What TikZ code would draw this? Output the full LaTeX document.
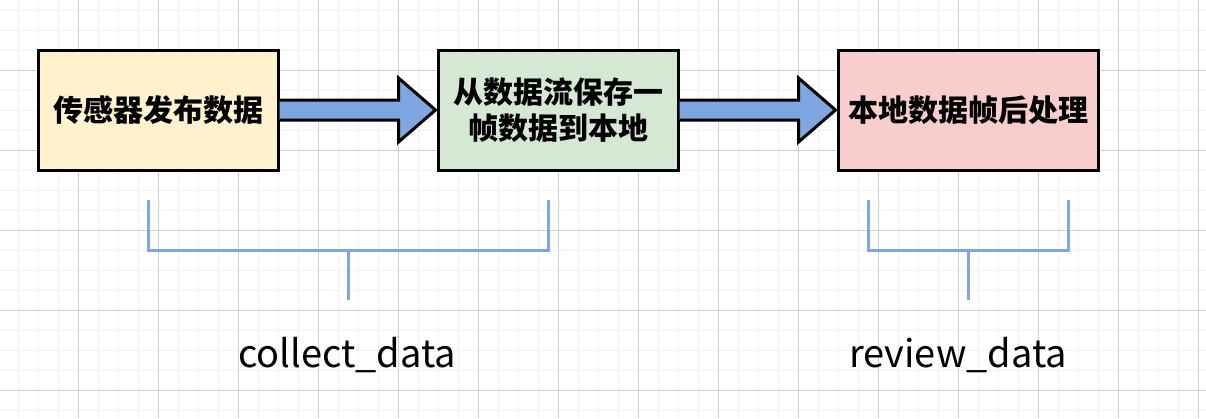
\documentclass[tikz,border=0pt]{standalone}
\usepackage{fontspec}
\newfontfamily\cjk{Noto Sans CJK SC}
\usetikzlibrary{calc}
\definecolor{gridminor}{HTML}{F2F2F2}
\definecolor{gridmajor}{HTML}{D0D0D0}
\definecolor{yellowfill}{HTML}{FFF2CC}
\definecolor{greenfill}{HTML}{D5E8D4}
\definecolor{redfill}{HTML}{F8CECC}
\definecolor{arrowblue}{HTML}{7EA6E0}
\begin{document}
\begin{tikzpicture}[x=1pt,y=-1pt,
  stepbox/.style={draw=black,line width=3pt,minimum height=120pt,inner sep=0pt,
    font=\cjk\bfseries\fontsize{30}{36}\selectfont,align=center},
  blockarrow/.style={fill=arrowblue,draw=black,line width=3pt,line join=miter},
  bracketline/.style={draw=arrowblue,line width=3pt,line join=miter},
  brlabel/.style={font=\cjk\fontsize{38}{44}\selectfont,anchor=base,inner sep=0pt}]
\useasboundingbox (0,0) rectangle (1206,418);
\fill[white] (0,0) rectangle (1206,418);
% grid
\foreach \x in {18,38,...,1198} \draw[gridminor,line width=1pt] (\x,0) -- (\x,418);
\foreach \y in {10,30,...,410} \draw[gridminor,line width=1pt] (0,\y) -- (1206,\y);
\foreach \x in {78,158,...,1198} \draw[gridmajor,line width=1pt] (\x,0) -- (\x,418);
\foreach \y in {70,150,...,390} \draw[gridmajor,line width=1pt] (0,\y) -- (1206,\y);
% boxes
\node[stepbox,fill=yellowfill,minimum width=240pt] (a) at (158,110) {传感器发布数据};
\node[stepbox,fill=greenfill,minimum width=240pt] (b) at (558,110) {从数据流保存一\\帧数据到本地};
\node[stepbox,fill=redfill,minimum width=260pt] (c) at (968,110) {本地数据帧后处理};
% block arrows
\filldraw[blockarrow] ($(a.east)+(0,-10)$) -- ($(a.east)+(119,-10)$) -- ($(a.east)+(119,-32)$)
  -- ($(b.west)+(-1,0)$) -- ($(a.east)+(119,32)$) -- ($(a.east)+(119,10)$) -- ($(a.east)+(0,10)$);
\filldraw[blockarrow] ($(b.east)+(0,-10)$) -- ($(b.east)+(119,-10)$) -- ($(b.east)+(119,-32)$)
  -- ($(c.west)+(-1,0)$) -- ($(b.east)+(119,32)$) -- ($(b.east)+(119,10)$) -- ($(b.east)+(0,10)$);
% brackets
\coordinate (l1) at (148,200);
\coordinate (r1) at (548,200);
\coordinate (m1) at (348,250);
\coordinate (s1) at (348,300);
\draw[bracketline] (l1) -- (l1|-m1) -- (r1|-m1) -- (r1);
\draw[bracketline] (m1) -- (s1);
\coordinate (l2) at (868,200);
\coordinate (r2) at (1068,200);
\coordinate (m2) at (968,250);
\coordinate (s2) at (968,300);
\draw[bracketline] (l2) -- (l2|-m2) -- (r2|-m2) -- (r2);
\draw[bracketline] (m2) -- (s2);
% labels
\node[brlabel] (t1) at (347,367) {collect\_data};
\node[brlabel] (t2) at (958,367) {review\_data};
\end{tikzpicture}
\end{document}
